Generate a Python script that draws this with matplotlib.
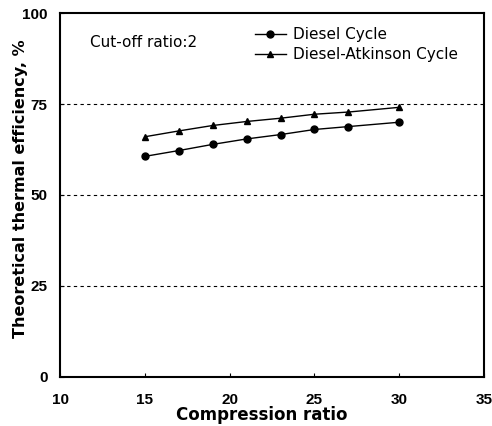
import matplotlib
matplotlib.use("Agg")
import matplotlib.pyplot as plt

compression_ratio = [15, 17, 19, 21, 23, 25, 27, 30]
diesel = [60.6, 62.2, 63.9, 65.4, 66.6, 68.0, 68.8, 70.0]
diesel_atkinson = [66.0, 67.6, 69.1, 70.2, 71.1, 72.2, 72.8, 74.1]
x_ticks = [10, 15, 20, 25, 30, 35]
y_ticks = [0, 25, 50, 75, 100]

plt.rcParams['font.family'] = ['Liberation Sans', 'DejaVu Sans']
plt.rcParams['font.weight'] = 'bold'

fig = plt.figure(figsize=(4.92, 4.26), dpi=100)
ax = fig.add_axes([0.122, 0.116, 0.862, 0.853])

for yv in [25, 50, 75]:
    ax.axhline(yv, color='black', linestyle=(0, (3, 3)), linewidth=0.8, zorder=1)

ax.plot(compression_ratio, diesel, color='black', marker='o', markersize=5,
        linewidth=1.0, label='Diesel Cycle', zorder=3)
ax.plot(compression_ratio, diesel_atkinson, color='black', marker='^', markersize=5,
        linewidth=1.0, label='Diesel-Atkinson Cycle', zorder=3)

ax.set_xlim(10, 35)
ax.set_ylim(0, 100)
ax.set_xticks(x_ticks)
ax.set_yticks(y_ticks)
ax.tick_params(direction='in', length=3, width=0.8, labelsize=11)
ax.tick_params(axis='x', pad=12)
ax.tick_params(axis='y', pad=9)
for lab in ax.get_xticklabels() + ax.get_yticklabels():
    lab.set_fontweight('bold')
for sp in ax.spines.values():
    sp.set_linewidth(1.5)

ax.set_xlabel('Compression ratio', fontsize=12, fontweight='bold', family='DejaVu Sans')
ax.set_ylabel('Theoretical thermal efficiency, %', fontsize=11.5, fontweight='bold',
              family='DejaVu Sans')
ax.xaxis.set_label_coords(0.475, -0.082)
ax.yaxis.set_label_coords(-0.075, 0.516)

ax.text(0.07, 0.92, 'Cut-off ratio:2', transform=ax.transAxes, fontsize=11,
        va='center', family='DejaVu Sans', fontweight='normal')
leg = ax.legend(loc='upper left', bbox_to_anchor=(0.46, 0.962), frameon=False,
                prop={'family': 'DejaVu Sans', 'size': 11, 'weight': 'normal'},
                handlelength=2.0, handletextpad=0.45, labelspacing=0.35,
                borderpad=0, borderaxespad=0)

fig.savefig('out.png', dpi=100)
